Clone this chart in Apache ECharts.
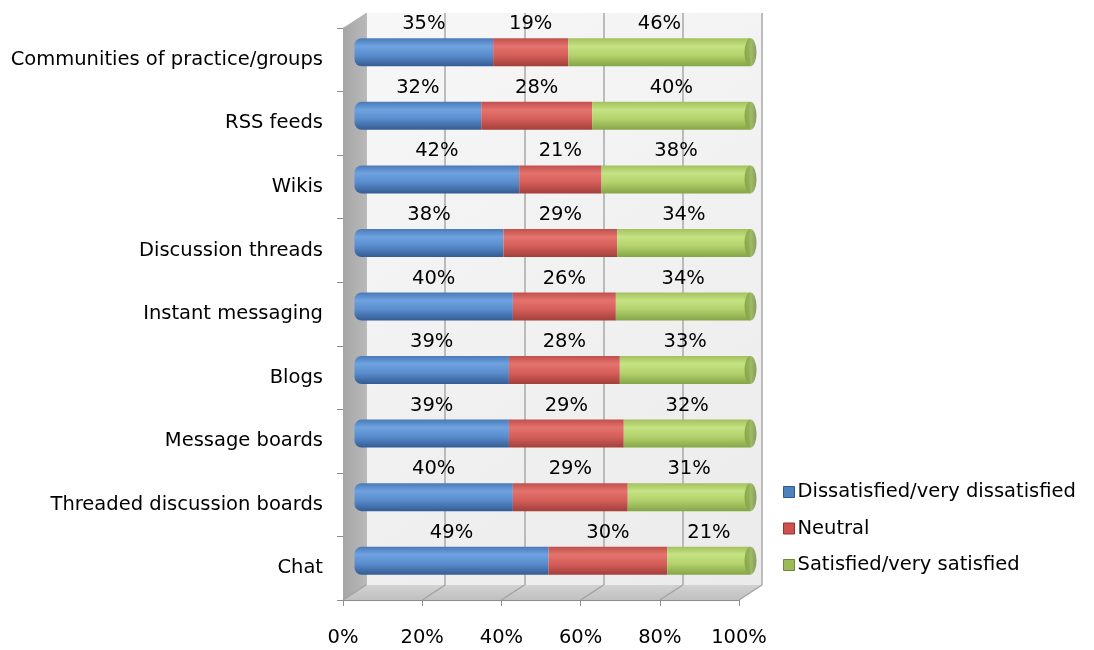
<!DOCTYPE html>
<html>
<head>
<meta charset="utf-8">
<script src="https://cdn.jsdelivr.net/npm/echarts@6/dist/echarts.min.js"></script>
<style>
  html, body { margin: 0; padding: 0; background: #ffffff; }
  #chart { width: 1094px; height: 650px; }
</style>
</head>
<body>
<div id="chart"></div>
<script>
// Satisfaction with collaboration tools (percent of respondents)
const categories = [
  'Communities of practice/groups', 'RSS feeds', 'Wikis', 'Discussion threads',
  'Instant messaging', 'Blogs', 'Message boards', 'Threaded discussion boards', 'Chat'
];
const dissatisfied = [35, 32, 42, 38, 40, 39, 39, 40, 49];
const neutral      = [19, 28, 21, 29, 26, 28, 29, 29, 30];
const satisfied    = [46, 40, 38, 34, 34, 33, 32, 31, 21];
const seriesNames  = ['Dissatisfied/very dissatisfied', 'Neutral', 'Satisfied/very satisfied'];
const xTicks       = [0, 20, 40, 60, 80, 100];

const FONT = 'DejaVu Sans';
const FS = 19.5;

// 3D frame layout: front plane of the plot, and the depth offset to the back wall
const front = { x0: 343, x1: 739, y0: 28, y1: 600 };
const depth = { dx: 23, dy: -15 };
const W = 1094, H = 650;

function gridAt(f) {
  return { left: front.x0 + f * depth.dx, right: W - (front.x1 + f * depth.dx),
           top: front.y0 + f * depth.dy, bottom: H - (front.y1 + f * depth.dy) };
}

// 100% stacked: each segment is drawn as its share of the row total
const totals = categories.map((_, i) => dissatisfied[i] + neutral[i] + satisfied[i]);
function shares(arr) {
  return arr.map((v, i) => ({ value: v / totals[i] * 100, raw: v }));
}

function cylinder(top, light, mid, bottom) {
  return new echarts.graphic.LinearGradient(0, 0, 0, 1, [
    { offset: 0, color: top },
    { offset: 0.28, color: light },
    { offset: 0.6, color: mid },
    { offset: 1, color: bottom }
  ]);
}

const palette = [
  { fill: cylinder('#4a79b8', '#6fa2e0', '#5a8dcd', '#345c94'), flat: '#4f81bd', edge: '#2d5a8e' },
  { fill: cylinder('#c1504c', '#e4736e', '#d65f5a', '#a23f3b'), flat: '#d0504d', edge: '#8e3330' },
  { fill: cylinder('#a2c15d', '#c6e283', '#b4d26d', '#86a548'), flat: '#9bbb59', edge: '#6a8a35' }
];

const labelStyle = {
  show: true, position: 'top', distance: 4,
  fontFamily: FONT, fontSize: FS, color: '#000',
  formatter: p => p.data.raw + '%'
};

const barGridIdx = 2;
function barSeries(k, arr, radius) {
  return {
    name: seriesNames[k], type: 'bar', stack: 'total',
    xAxisIndex: barGridIdx, yAxisIndex: barGridIdx,
    barWidth: 28, z: 4,
    data: shares(arr),
    itemStyle: { color: palette[k].fill, borderRadius: radius },
    label: labelStyle,
    emphasis: { disabled: true }
  };
}

const chart = echarts.init(document.getElementById('chart'), null, { renderer: 'canvas' });

const option = {
  animation: false,
  backgroundColor: '#ffffff',
  textStyle: { fontFamily: FONT },
  grid: [
    Object.assign({ containLabel: false }, gridAt(0)),
    Object.assign({ show: true, borderWidth: 0, z: 0,
      backgroundColor: new echarts.graphic.LinearGradient(0, 0, 1, 1, [
        { offset: 0, color: '#f7f7f7' }, { offset: 1, color: '#ebebeb' }
      ]) }, gridAt(1)),
    gridAt(0.5)
  ],
  xAxis: [
    { gridIndex: 0, type: 'value', min: 0, max: 100, interval: 20,
      axisLine: { show: true, lineStyle: { color: '#8c8c8c' } },
      axisTick: { show: true, length: 6, lineStyle: { color: '#8c8c8c' } },
      splitLine: { show: false },
      axisLabel: { formatter: '{value}%', fontFamily: FONT, fontSize: FS, color: '#000', margin: 28 } },
    { gridIndex: 1, type: 'value', min: 0, max: 100, interval: 20,
      axisLine: { show: false }, axisTick: { show: false }, axisLabel: { show: false },
      splitLine: { show: true, lineStyle: { color: '#a8a8a8', width: 1.5 } } },
    { gridIndex: 2, type: 'value', min: 0, max: 100, show: false }
  ],
  yAxis: [
    { gridIndex: 0, type: 'category', data: categories, inverse: true,
      axisLine: { show: true, lineStyle: { color: '#8c8c8c' } },
      axisTick: { show: true, length: 6, lineStyle: { color: '#8c8c8c' } },
      axisLabel: { fontFamily: FONT, fontSize: FS, color: '#000', margin: 20 } },
    { gridIndex: 1, type: 'category', data: categories, inverse: true, show: false },
    { gridIndex: 2, type: 'category', data: categories, inverse: true, show: false }
  ],
  legend: {
    orient: 'vertical', left: 778, top: 477,
    icon: 'rect', itemWidth: 11, itemHeight: 11, itemGap: 16.5,
    textStyle: { fontFamily: FONT, fontSize: FS, color: '#000', padding: [0, 0, 0, -2] },
    data: seriesNames.map((n, k) => ({
      name: n, itemStyle: { color: palette[k].flat, borderColor: palette[k].edge, borderWidth: 1 }
    })),
    selectedMode: false
  },
  series: [
    barSeries(0, dissatisfied, [7, 0, 0, 7]),
    barSeries(1, neutral, 0),
    barSeries(2, satisfied, 0),
    {
      // elliptical end face of each cylinder at the 100% mark
      name: 'cap', type: 'scatter', xAxisIndex: barGridIdx, yAxisIndex: barGridIdx,
      symbol: 'circle', symbolSize: [12, 28], z: 5, silent: true,
      itemStyle: { color: new echarts.graphic.LinearGradient(0, 0, 1, 0, [
        { offset: 0, color: '#7c9b40' }, { offset: 0.5, color: '#90b04e' }, { offset: 1, color: '#6c8835' }
      ]) },
      data: categories.map((c, i) => [totals[i] / totals[i] * 100, c])
    }
  ]
};

chart.setOption(option);

// Side wall, floor and floor grid lines of the 3D frame, placed from the front axis
const xs = xTicks.map(t => chart.convertToPixel({ xAxisIndex: 0 }, t));
const xa = xs[0], xb = xs[xs.length - 1];
const yTop = front.y0, yBot = front.y1;
const floorLines = xs.map(x => ({
  type: 'line', z: 1, silent: true,
  shape: { x1: x, y1: yBot, x2: x + depth.dx, y2: yBot + depth.dy },
  style: { stroke: '#a0a0a0', lineWidth: 1.2 }
}));
chart.setOption({
  graphic: [
    {
      type: 'polygon', z: 1, silent: true,
      shape: { points: [[xa, yTop], [xa + depth.dx, yTop + depth.dy], [xa + depth.dx, yBot + depth.dy], [xa, yBot]] },
      style: { fill: new echarts.graphic.LinearGradient(0, 0, 1, 0, [
        { offset: 0, color: '#a6a6a6' }, { offset: 1, color: '#b8b8b8' }
      ]) }
    },
    {
      type: 'polygon', z: 1, silent: true,
      shape: { points: [[xa, yBot], [xb, yBot], [xb + depth.dx, yBot + depth.dy], [xa + depth.dx, yBot + depth.dy]] },
      style: { fill: new echarts.graphic.LinearGradient(0, 0, 0, 1, [
        { offset: 0, color: '#d2d2d2' }, { offset: 1, color: '#c0c0c0' }
      ]) }
    }
  ].concat(floorLines)
});
</script>
</body>
</html>
